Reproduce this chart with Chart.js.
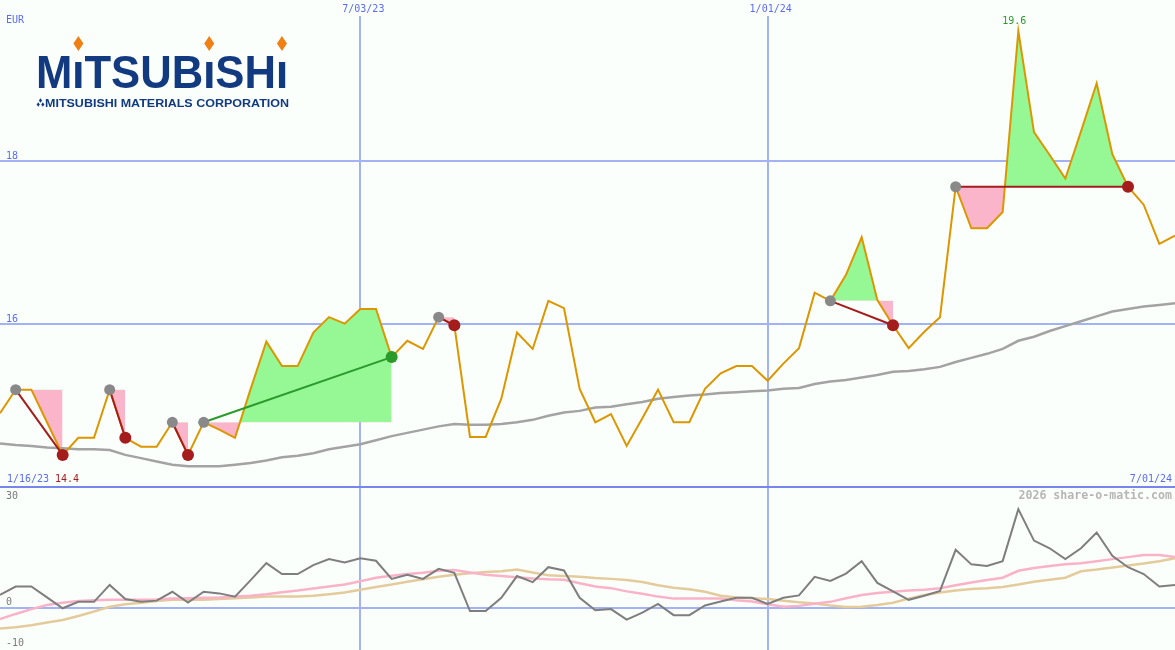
<!DOCTYPE html>
<html>
<head>
<meta charset="utf-8">
<script src="https://cdn.jsdelivr.net/npm/chart.js"></script>
<style>
  body { margin: 0; background: #fbfffb; }
  #wrap { position: relative; width: 1175px; height: 650px; overflow: hidden; }
  #priceBox { position: absolute; left: 0; top: 0; width: 1175px; height: 487px; }
  #momBox { position: absolute; left: 0; top: 487px; width: 1175px; height: 163px; }
  #sep { position: absolute; left: 0; top: 486px; width: 1175px; height: 2px; background: #7686ee; }
</style>
</head>
<body>
<div id="wrap">
  <div id="priceBox"><canvas id="priceChart" width="1175" height="487"></canvas></div>
  <div id="momBox"><canvas id="momChart" width="1175" height="163"></canvas></div>
  <div id="sep"></div>
</div>
<script>
// weekly closes, EUR
const weeks = [
  "1/23/23", "1/30/23", "2/06/23", "2/13/23", "2/20/23", "2/27/23", "3/06/23", "3/13/23", "3/20/23", "3/27/23",
  "4/03/23", "4/10/23", "4/17/23", "4/24/23", "5/01/23", "5/08/23", "5/15/23", "5/22/23", "5/29/23", "6/05/23",
  "6/12/23", "6/19/23", "6/26/23", "7/03/23", "7/10/23", "7/17/23", "7/24/23", "7/31/23", "8/07/23", "8/14/23",
  "8/21/23", "8/28/23", "9/04/23", "9/11/23", "9/18/23", "9/25/23", "10/02/23", "10/09/23", "10/16/23", "10/23/23",
  "10/30/23", "11/06/23", "11/13/23", "11/20/23", "11/27/23", "12/04/23", "12/11/23", "12/18/23", "12/25/23", "1/01/24",
  "1/08/24", "1/15/24", "1/22/24", "1/29/24", "2/05/24", "2/12/24", "2/19/24", "2/26/24", "3/04/24", "3/11/24",
  "3/18/24", "3/25/24", "4/01/24", "4/08/24", "4/15/24", "4/22/24", "4/29/24", "5/06/24", "5/13/24", "5/20/24",
  "5/27/24", "6/03/24", "6/10/24", "6/17/24", "6/24/24", "7/01/24"
];
const firstDate = "1/16/23";
const gridWeeks = ["7/03/23", "1/01/24"];
const priceTicks = [16, 18];
const momTicks = [30, 0, -10];
const currency = "EUR";

const price = [
  14.91, 15.20, 15.20, 14.80, 14.40, 14.61, 14.61, 15.20, 14.61, 14.50,
  14.50, 14.80, 14.40, 14.80, 14.71, 14.61, 15.21, 15.79, 15.49, 15.49,
  15.90, 16.09, 16.01, 16.19, 16.19, 15.60, 15.80, 15.70, 16.09, 15.99,
  14.62, 14.62, 15.09, 15.90, 15.70, 16.29, 16.20, 15.21, 14.80, 14.90,
  14.51, 14.85, 15.20, 14.80, 14.80, 15.21, 15.40, 15.49, 15.49, 15.31,
  15.52, 15.71, 16.39, 16.29, 16.61, 17.07, 16.30, 15.99, 15.71, 15.91,
  16.09, 17.69, 17.18, 17.18, 17.38, 19.60, 18.36, 18.08, 17.79, 18.37,
  18.96, 18.09, 17.69, 17.47, 16.99, 17.09
];
const avg = [
  14.54, 14.52, 14.51, 14.49, 14.48, 14.47, 14.47, 14.46, 14.40, 14.36,
  14.32, 14.28, 14.26, 14.26, 14.26, 14.28, 14.30, 14.33, 14.37, 14.39,
  14.42, 14.47, 14.50, 14.53, 14.58, 14.63, 14.67, 14.71, 14.75, 14.78,
  14.77, 14.77, 14.78, 14.80, 14.83, 14.88, 14.92, 14.94, 14.98, 14.99,
  15.02, 15.05, 15.09, 15.11, 15.13, 15.14, 15.16, 15.17, 15.18, 15.19,
  15.21, 15.22, 15.27, 15.30, 15.32, 15.35, 15.38, 15.42, 15.43, 15.45,
  15.48, 15.54, 15.59, 15.64, 15.70, 15.80, 15.85, 15.92, 15.98, 16.04,
  16.10, 16.16, 16.19, 16.22, 16.24, 16.26
];

// trades: index of entry / exit week
const tradeStart = [1, 7, 11, 13, 28, 53, 61];
const tradeEnd = [4, 8, 12, 25, 29, 57, 72];
const tradeWin = [false, false, false, true, false, false, false];

// lower panel
const momentum = [
  3.2, 5.3, 5.3, 2.6, -0.1, 1.5, 1.5, 5.7, 2.2, 1.5,
  1.8, 4.0, 1.3, 4.0, 3.6, 2.8, 6.9, 11.1, 8.4, 8.4,
  10.6, 12.1, 11.3, 12.3, 11.7, 7.2, 8.2, 7.2, 9.7, 8.7,
  -0.8, -0.8, 2.5, 7.9, 6.4, 10.1, 9.3, 2.5, -0.6, -0.3,
  -2.9, -1.2, 1.0, -1.8, -1.8, 0.6, 1.6, 2.5, 2.5, 1.0,
  2.5, 3.1, 7.7, 6.7, 8.5, 11.6, 6.2, 4.1, 2.0, 3.0,
  4.2, 14.4, 10.8, 10.4, 11.6, 24.5, 16.7, 14.8, 12.1, 14.8,
  18.7, 12.9, 10.1, 8.4, 5.3, 5.7
];
const momPink = [
  -2.8, -1.5, -0.3, 0.7, 1.3, 1.7, 1.9, 2.0, 2.0, 2.0,
  2.1, 2.3, 2.4, 2.5, 2.6, 2.8, 3.0, 3.4, 3.9, 4.3,
  4.8, 5.3, 5.8, 6.6, 7.5, 8.0, 8.4, 8.7, 9.2, 9.4,
  8.8, 8.2, 7.9, 7.6, 7.3, 7.1, 7.0, 6.1, 5.3, 4.9,
  4.1, 3.5, 2.8, 2.3, 2.3, 2.3, 2.3, 1.9, 1.6, 0.9,
  0.3, 0.5, 1.0, 1.5, 2.4, 3.2, 3.7, 4.0, 4.3, 4.5,
  4.9, 5.6, 6.3, 6.9, 7.5, 9.2, 9.9, 10.4, 10.8, 11.1,
  11.6, 12.1, 12.6, 13.1, 13.1, 12.6
];
const momTan = [
  -5.1, -4.8, -4.3, -3.6, -3.0, -2.0, -0.9, 0.3, 0.9, 1.3,
  1.7, 2.0, 2.0, 2.0, 2.2, 2.4, 2.6, 2.8, 2.8, 2.8,
  3.0, 3.4, 3.8, 4.5, 5.2, 5.8, 6.5, 7.1, 7.7, 8.2,
  8.6, 8.9, 9.1, 9.5, 8.8, 8.1, 7.9, 7.7, 7.4, 7.2,
  6.9, 6.4, 5.6, 5.0, 4.6, 4.0, 3.0, 2.6, 2.4, 2.2,
  1.8, 1.4, 1.1, 0.6, 0.2, 0.3, 0.7, 1.3, 2.3, 3.2,
  3.8, 4.3, 4.7, 4.9, 5.2, 5.8, 6.5, 7.0, 7.5, 9.1,
  9.5, 10.0, 10.5, 11.0, 11.6, 12.3
];

const gridBlue = "#a3b2f4";
const labelBlue = "#5a6cf0";
const orange = "#dc9600";
const darkRed = "#a41c1c";
const winGreen = "#2a9a2a";
const fillGreen = "#95f895";
const fillPink = "#fbb5ca";
const monoFont = '"DejaVu Sans Mono", "Liberation Mono", monospace';

function pt(i, arr) {
  return { x: weeks[i], y: arr[i] };
}

function range(a, b) {
  const out = [];
  for (let i = a; i <= b; i++) out.push(i);
  return out;
}

// shared axis settings: only the grid, labels are drawn by the plugins
function xAxis() {
  return {
    type: "category",
    grid: { color: gridBlue, lineWidth: 2, drawTicks: false },
    border: { display: false },
    ticks: { display: false },
    afterBuildTicks: (s) => {
      s.ticks = gridWeeks.map((w) => ({ value: weeks.indexOf(w) }));
    },
    afterFit: (s) => { s.height = 0; },
  };
}

function yAxis(min, max, ticks) {
  return {
    min: min,
    max: max,
    grid: { color: gridBlue, lineWidth: 2, drawTicks: false },
    border: { display: false },
    ticks: { display: false },
    afterBuildTicks: (s) => {
      s.ticks = ticks.map((v) => ({ value: v }));
    },
    afterFit: (s) => { s.width = 0; },
  };
}

// Mitsubishi logo drawn as text in the corner
function drawLogo(ctx) {
  const navy = "#123a80";
  const word = "MITSUBISHI";
  ctx.save();
  ctx.fillStyle = navy;
  ctx.textBaseline = "alphabetic";
  ctx.font = 'bold 46px "Liberation Sans Narrow", "Liberation Sans", Arial, sans-serif';
  let total = 0;
  for (const ch of word) total += ctx.measureText(ch).width;
  const sx = 252 / total;
  let x = 36;
  const base = 88;
  const iCenters = [];
  for (const ch of word) {
    const w = ctx.measureText(ch).width * sx;
    ctx.save();
    ctx.translate(x, base);
    ctx.scale(sx, ch === "I" ? 0.82 : 1);
    ctx.fillText(ch, 0, 0);
    ctx.restore();
    if (ch === "I") iCenters.push(x + w / 2);
    x += w;
  }
  // orange diamonds above the I's
  ctx.fillStyle = "#f07f14";
  iCenters.forEach((cx) => {
    ctx.beginPath();
    ctx.moveTo(cx, 36);
    ctx.lineTo(cx + 5, 43.5);
    ctx.lineTo(cx, 51);
    ctx.lineTo(cx - 5, 43.5);
    ctx.closePath();
    ctx.fill();
  });
  // small three-diamond mark
  ctx.fillStyle = navy;
  const diamond = (cx, cy, r) => {
    ctx.beginPath();
    ctx.moveTo(cx, cy - r * 1.4);
    ctx.lineTo(cx + r, cy);
    ctx.lineTo(cx, cy + r * 1.4);
    ctx.lineTo(cx - r, cy);
    ctx.closePath();
    ctx.fill();
  };
  diamond(40.5, 100.5, 1.6);
  diamond(38.2, 104.5, 1.6);
  diamond(42.8, 104.5, 1.6);
  // company line
  const sub = "MITSUBISHI MATERIALS CORPORATION";
  ctx.font = 'bold 11px "Liberation Sans Narrow", "Liberation Sans", Arial, sans-serif';
  const sw = ctx.measureText(sub).width;
  ctx.save();
  ctx.translate(45, 106.5);
  ctx.scale(244 / sw, 1);
  ctx.fillText(sub, 0, 0);
  ctx.restore();
  ctx.restore();
}

const priceLabels = {
  id: "priceLabels",
  afterDraw(chart) {
    const ctx = chart.ctx;
    const xs = chart.scales.x;
    const ys = chart.scales.y;
    ctx.save();
    ctx.font = "10px " + monoFont;
    ctx.textBaseline = "middle";
    ctx.fillStyle = labelBlue;
    ctx.textAlign = "left";
    ctx.fillText(currency, 6, 20);
    priceTicks.forEach((v) => {
      ctx.fillText(String(v), 6, ys.getPixelForValue(v) - 5);
    });
    ctx.textAlign = "center";
    gridWeeks.forEach((w) => {
      ctx.fillText(w, xs.getPixelForValue(weeks.indexOf(w)) + 3, 9);
    });
    ctx.textAlign = "left";
    ctx.fillText(firstDate, 7, 479);
    const lo = Math.min(...price);
    ctx.fillStyle = darkRed;
    ctx.fillText(lo.toFixed(1), 55, 479);
    ctx.fillStyle = labelBlue;
    ctx.textAlign = "right";
    ctx.fillText(weeks[weeks.length - 1], 1172, 479);
    const hi = Math.max(...price);
    const hiIdx = price.indexOf(hi);
    ctx.fillStyle = winGreen;
    ctx.textAlign = "center";
    ctx.fillText(hi.toFixed(1), xs.getPixelForValue(hiIdx) - 4, ys.getPixelForValue(hi) - 10);
    ctx.restore();
    drawLogo(ctx);
  },
};

const momLabels = {
  id: "momLabels",
  afterDraw(chart) {
    const ctx = chart.ctx;
    const ys = chart.scales.y;
    ctx.save();
    ctx.font = "10px " + monoFont;
    ctx.textBaseline = "middle";
    ctx.fillStyle = "#7a7a7a";
    ctx.textAlign = "left";
    momTicks.forEach((v) => {
      const yy = ys.getPixelForValue(v);
      ctx.fillText(String(v), 6, v === momTicks[0] ? yy + 9 : yy - 5);
    });
    ctx.font = "bold 11.6px " + monoFont;
    ctx.fillStyle = "#b6b6b6";
    ctx.textAlign = "right";
    ctx.fillText("2026 share-o-matic.com", 1172, 9);
    ctx.restore();
  },
};

// datasets for the price panel
const priceSets = [];

tradeStart.forEach((s, t) => {
  const e = tradeEnd[t];
  priceSets.push({
    data: range(s, e).map((i) => pt(i, price)),
    borderWidth: 0,
    pointRadius: 0,
    fill: { target: { value: price[s] }, above: fillGreen, below: fillPink },
    order: 10,
  });
  priceSets.push({
    data: [pt(s, price), pt(e, price)],
    borderColor: tradeWin[t] ? winGreen : darkRed,
    borderWidth: 2,
    pointRadius: 0,
    fill: false,
    order: 2,
  });
});

priceSets.push({
  data: avg,
  borderColor: "#a3a3a3",
  borderWidth: 2.5,
  pointRadius: 0,
  fill: false,
  order: 5,
});
priceSets.push({
  data: price,
  borderColor: orange,
  borderWidth: 2,
  pointRadius: 0,
  fill: false,
  order: 3,
});
priceSets.push({
  data: tradeStart.map((s) => pt(s, price)),
  showLine: false,
  pointRadius: 5.5,
  pointBorderWidth: 0,
  pointBackgroundColor: "#898989",
  order: 1,
});
priceSets.push({
  data: tradeEnd.map((e) => pt(e, price)),
  showLine: false,
  pointRadius: 6,
  pointBorderWidth: 0,
  pointBackgroundColor: tradeWin.map((w) => (w ? winGreen : darkRed)),
  order: 0,
});

const common = {
  responsive: false,
  animation: false,
  events: [],
  plugins: { legend: { display: false }, tooltip: { enabled: false } },
  elements: { line: { tension: 0 } },
};

new Chart(document.getElementById("priceChart"), {
  type: "line",
  data: { labels: weeks, datasets: priceSets },
  options: Object.assign({}, common, {
    layout: { autoPadding: false, padding: { top: 16, left: 0, right: 0, bottom: 0 } },
    scales: { x: xAxis(), y: yAxis(14.006, 19.785, priceTicks) },
  }),
  plugins: [priceLabels],
});

new Chart(document.getElementById("momChart"), {
  type: "line",
  data: {
    labels: weeks,
    datasets: [
      { data: momentum, borderColor: "#7e7e7e", borderWidth: 2, pointRadius: 0, fill: false, order: 1 },
      { data: momPink, borderColor: "#fab2c8", borderWidth: 2.5, pointRadius: 0, fill: false, order: 2 },
      { data: momTan, borderColor: "#e4cb9c", borderWidth: 2.5, pointRadius: 0, fill: false, order: 3 },
    ],
  },
  options: Object.assign({}, common, {
    layout: { autoPadding: false, padding: 0 },
    scales: { x: xAxis(), y: yAxis(-10.45, 30, [0]) },
  }),
  plugins: [momLabels],
});
</script>
</body>
</html>
